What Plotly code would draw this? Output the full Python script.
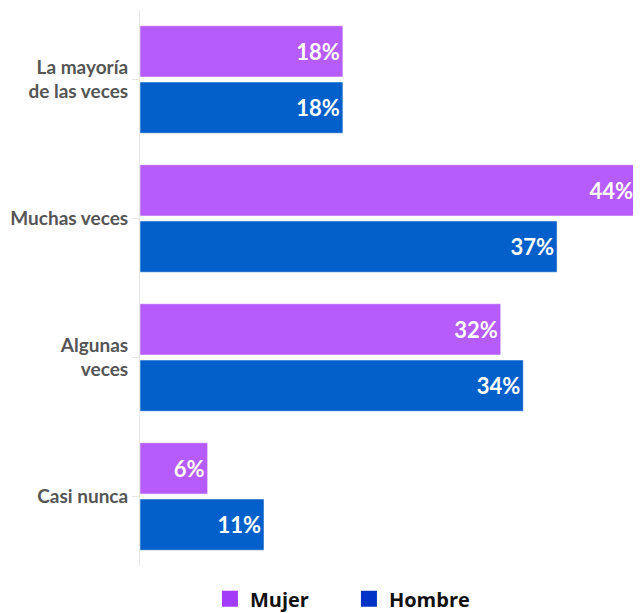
import plotly.graph_objects as go

categories = ["La mayoría<br>de las veces", "Muchas veces", "Algunas<br>veces", "Casi nunca"]
mujer = [18, 44, 32, 6]
hombre = [18, 37, 34, 11]
series_names = ["Mujer", "Hombre"]
bar_colors = ["#b65cfc", "#035fc9"]
legend_colors = ["#a23cf7", "#0033c6"]

fig = go.Figure()
for name, vals, col in zip(series_names, [mujer, hombre], bar_colors):
    fig.add_trace(go.Bar(
        y=categories, x=vals, orientation="h", name=name,
        marker=dict(color=col, line=dict(color="rgba(255,255,255,0.5)", width=1)),
        text=[f"{v}%" for v in vals], textposition="inside", insidetextanchor="end",
        textfont=dict(family="Lato", size=22, color="white", weight="bold"),
        showlegend=False, cliponaxis=False,
    ))
for name, col in zip(series_names, legend_colors):
    fig.add_trace(go.Scatter(
        x=[None], y=[None], mode="markers", name=name,
        marker=dict(symbol="square", size=17, color=col),
    ))

fig.update_layout(
    width=633, height=605,
    margin=dict(l=132, r=5, t=2, b=47, autoexpand=False),
    paper_bgcolor="white", plot_bgcolor="white",
    barmode="group", bargap=0.19, bargroupgap=0.09,
    xaxis=dict(range=[0, 44], visible=False, fixedrange=True),
    yaxis=dict(autorange="reversed", categoryorder="array", categoryarray=categories,
               automargin=False,
               showline=True, linecolor="#e6e6e6", linewidth=1,
               ticks="outside", ticklen=7, tickcolor="#e6e6e6",
               tickfont=dict(family="Lato", size=19, color="#555555", weight="bold"),
               showgrid=False),
    legend=dict(orientation="h", x=0.141, xanchor="left", y=-0.059, yanchor="middle",
                font=dict(family="Open Sans", size=20, color="#111111", weight="bold"),
                itemsizing="trace", itemwidth=30, tracegroupgap=0,
                entrywidth=94, entrywidthmode="pixels"),
    showlegend=True,
)
fig.write_html("out.html")
